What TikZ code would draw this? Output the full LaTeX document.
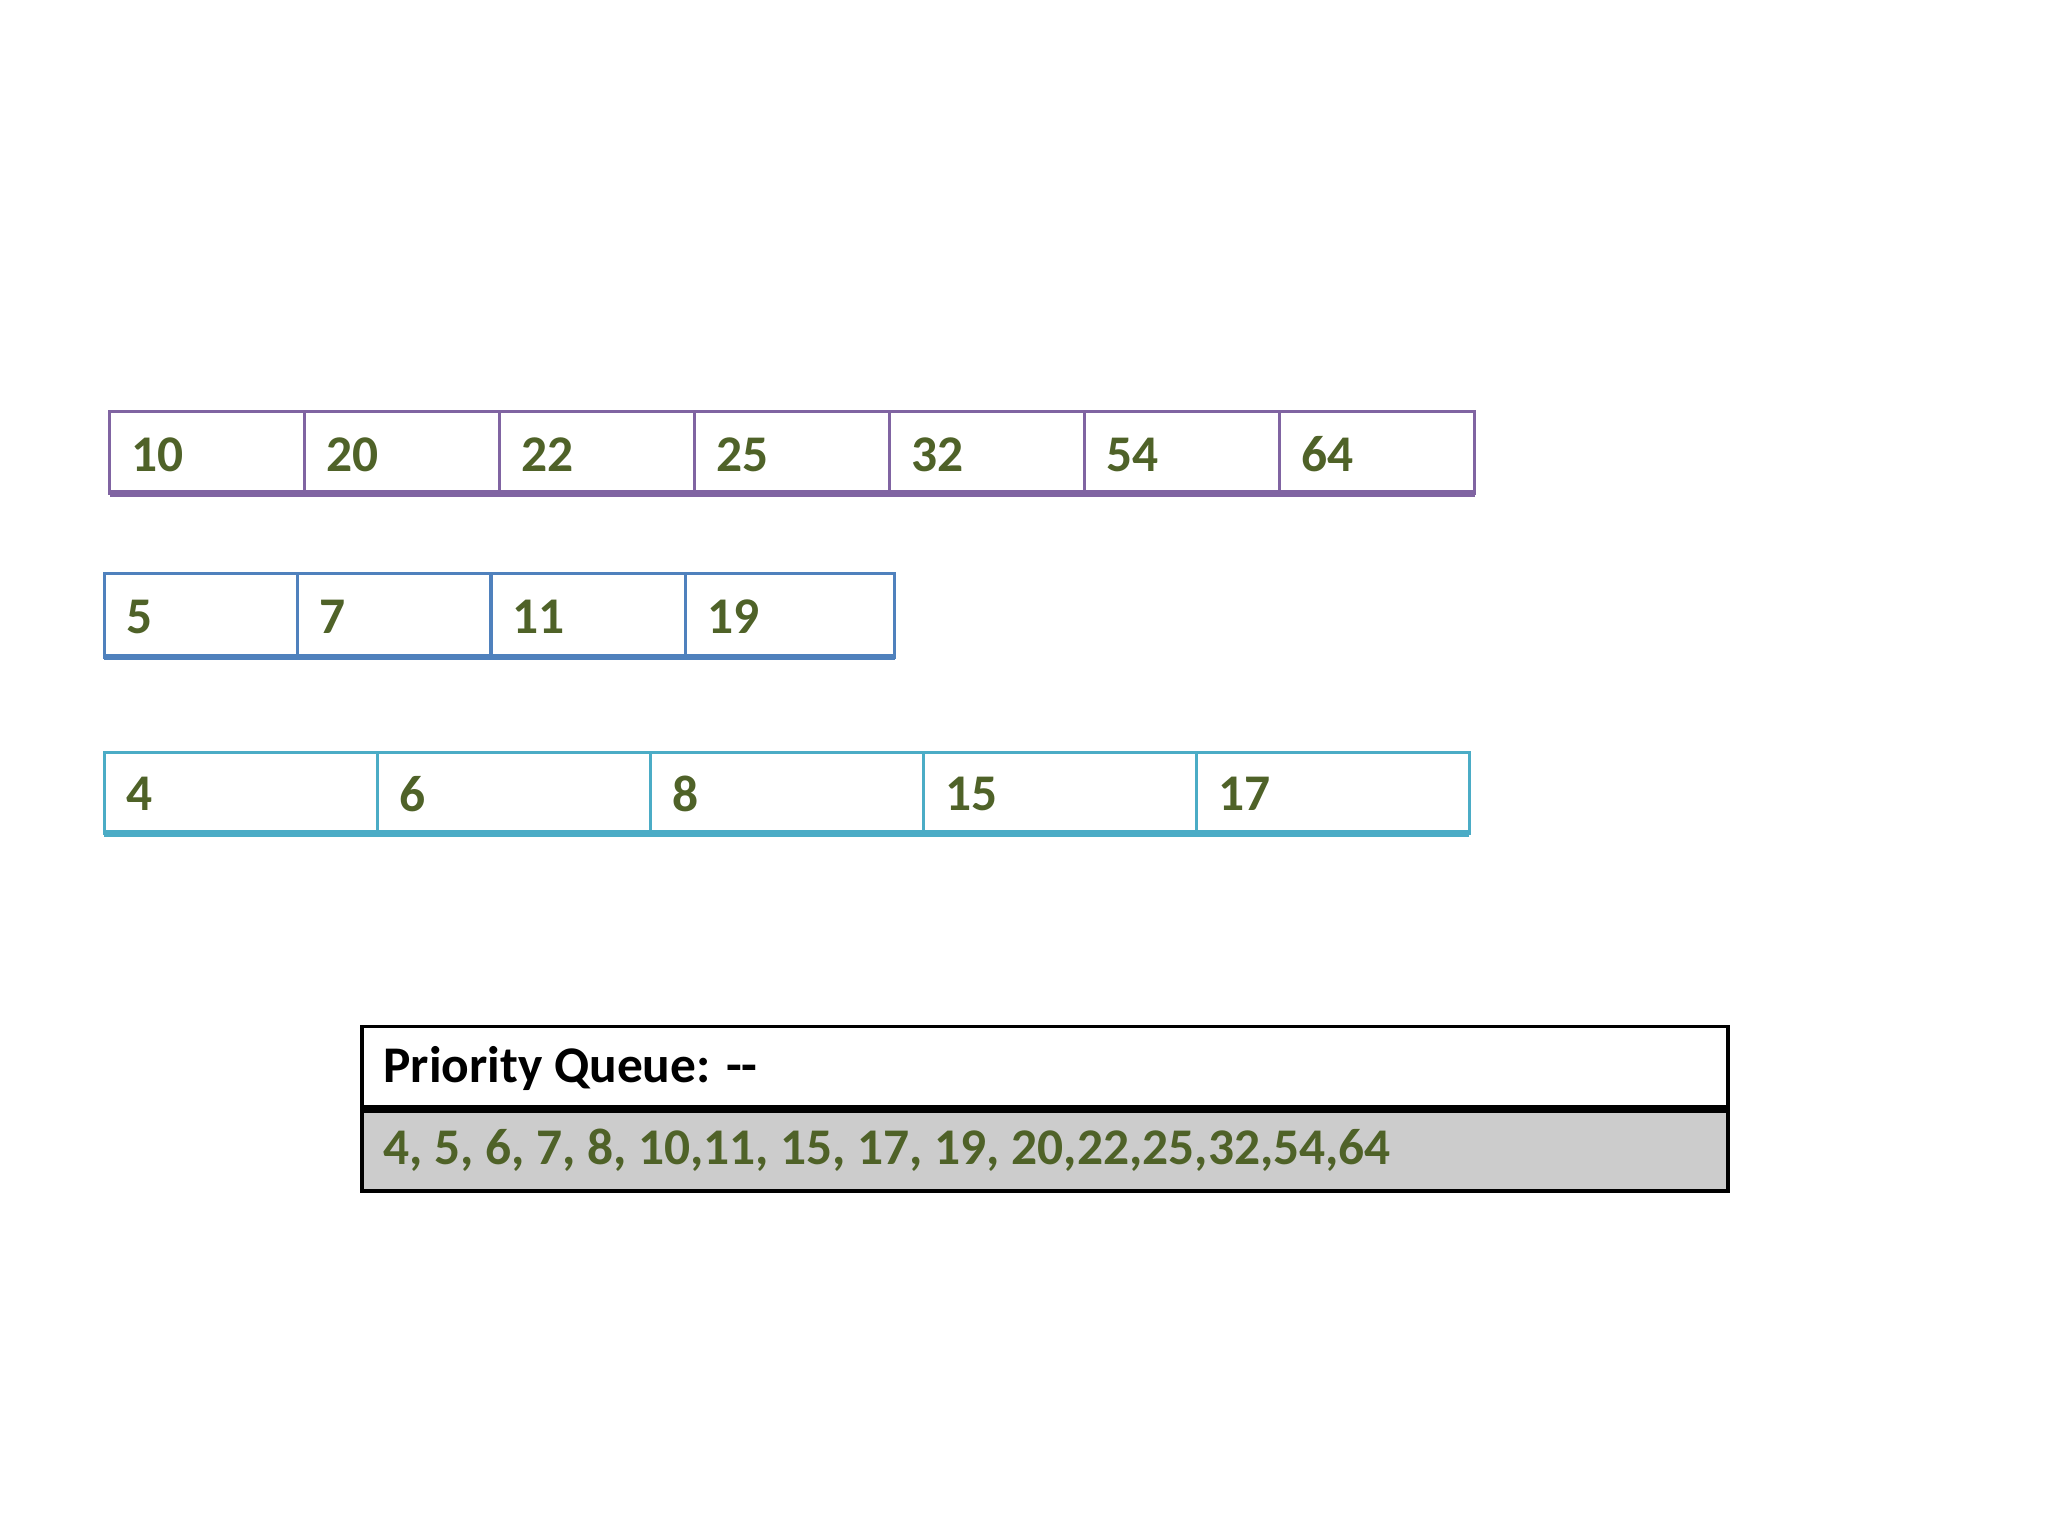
\documentclass[tikz,border=0pt]{standalone}
\usepackage{fontspec}
\setmainfont{Carlito}
\definecolor{olive}{RGB}{79,98,40}
\definecolor{purp}{RGB}{128,100,162}
\definecolor{blu}{RGB}{79,129,189}
\definecolor{teal2}{RGB}{75,172,198}
\definecolor{gry}{RGB}{204,204,204}
\begin{document}
\begin{tikzpicture}[x=0.0125cm,y=-0.0125cm,
 num/.style={anchor=west,font=\fontsize{14}{17}\selectfont\bfseries,text=olive,inner sep=0pt},
 cellbox/.style={line width=0.9pt}]
\useasboundingbox (0,0) rectangle (1568,1176);
% row 1
\foreach \v [count=\i from 0] in {10,20,22,25,32,54,64}{
  \draw[cellbox,draw=purp] ({84+149.3*\i},315) rectangle ({84+149.3*(\i+1)},378);
  \node[num] (a\i) at ({84+149.3*\i+16},348) {\v};
}
\draw[purp,line width=1.8pt] (84,378) -- (1129,378);
% row 2
\draw[cellbox,draw=blu] (80,439) rectangle (685,503);
\foreach \x in {228,376,525} \draw[cellbox,draw=blu] (\x,439) -- (\x,503);
\draw[blu,line width=1.8pt] (80,503) -- (685,503);
\node[num] (b0) at (96,472) {5};
\node[num] (b1) at (244,472) {7};
\node[num] (b2) at (392,472) {11};
\node[num] (b3) at (541,472) {19};
% row 3
\foreach \v [count=\i from 0] in {4,6,8,15,17}{
  \draw[cellbox,draw=teal2] ({80+209*\i},576) rectangle ({80+209*(\i+1)},638);
  \node[num] (c\i) at ({80+209*\i+16},608) {\v};
}
\draw[teal2,line width=1.8pt] (80,638) -- (1125,638);
% queue
\fill[gry] (277,849) rectangle (1323,912);
\draw[line width=1pt] (277,786) rectangle (1323,912);
\draw[line width=2.2pt] (277,849) -- (1323,849);
\node[num,text=black] (pq) at (293,818) {Priority Queue: {-}{-}};
\node[num] (res) at (293,881) {4, 5, 6, 7, 8, 10,11, 15, 17, 19, 20,22,25,32,54,64};
\end{tikzpicture}
\end{document}
